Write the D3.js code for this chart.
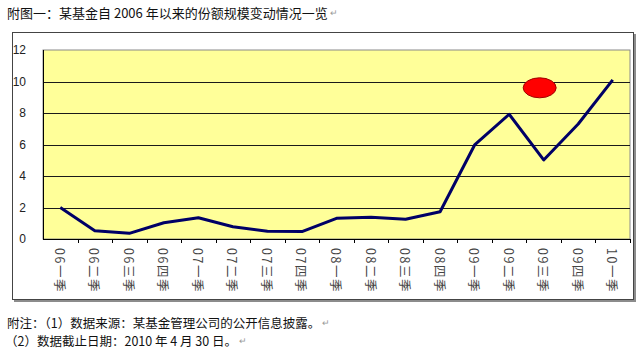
<!DOCTYPE html>
<html>
<head>
<meta charset="utf-8">
<script src="https://cdn.jsdelivr.net/npm/d3@7"></script>
<style>
  body { margin: 0; background: #fff; }
  text { font-family: "Noto Sans CJK SC", sans-serif; }
</style>
</head>
<body>
<div id="chart"></div>
<script>
// Data
var quarters = ["06一季", "06二季", "06三季", "06四季", "07一季", "07二季", "07三季", "07四季",
  "08一季", "08二季", "08三季", "08四季", "09一季", "09二季", "09三季", "09四季", "10一季"];
var shares = [2.0, 0.53, 0.36, 1.03, 1.35, 0.78, 0.49, 0.47,
  1.31, 1.38, 1.25, 1.73, 5.97, 7.92, 5.02, 7.3, 10.1];
var yTicks = [0, 2, 4, 6, 8, 10, 12];
var titleText = "附图一：某基金自 2006 年以来的份额规模变动情况一览";
var notes = ["附注：（1）数据来源：某基金管理公司的公开信息披露。", "（2）数据截止日期：2010 年 4 月 30 日。"];

var W = 640, H = 353;
var plot = { left: 43, right: 630, top: 50, bottom: 239 };

var svg = d3.select("#chart").append("svg")
  .attr("width", W)
  .attr("height", H);

// Title
var t = svg.append("text")
  .attr("x", 7)
  .attr("y", 12)
  .attr("dominant-baseline", "central")
  .style("font-size", "13px")
  .attr("fill", "#111")
  .text(titleText);
t.append("tspan").attr("fill", "#999").style("font-size", "9px").text(" ↵");

// Outer frame with shadow
svg.append("rect")
  .attr("x", 14).attr("y", 34)
  .attr("width", 622).attr("height", 268)
  .attr("fill", "#8c8c8c");
svg.append("rect")
  .attr("x", 12.5).attr("y", 32.5)
  .attr("width", 621).attr("height", 267)
  .attr("fill", "#fff")
  .attr("stroke", "#444");

// Scales
var x = d3.scaleBand()
  .domain(quarters)
  .range([plot.left, plot.right])
  .padding(0);
var y = d3.scaleLinear()
  .domain([0, 12])
  .range([plot.bottom, plot.top]);

// Plot area
svg.append("rect")
  .attr("x", plot.left).attr("y", plot.top)
  .attr("width", plot.right - plot.left)
  .attr("height", plot.bottom - plot.top)
  .attr("fill", "#ffff99")
  .attr("stroke", "#8a8a8a");

// Gridlines
svg.append("g")
  .selectAll("line")
  .data(yTicks.filter(function(d) { return d > 0 && d < 12; }))
  .enter().append("line")
  .attr("x1", plot.left).attr("x2", plot.right)
  .attr("y1", function(d) { return Math.round(y(d)) + 0.5; })
  .attr("y2", function(d) { return Math.round(y(d)) + 0.5; })
  .attr("stroke", "#1a1a1a");

// Y axis
svg.append("line")
  .attr("x1", plot.left + 0.5).attr("x2", plot.left + 0.5)
  .attr("y1", plot.top).attr("y2", plot.bottom)
  .attr("stroke", "#000");
svg.append("g")
  .selectAll("text")
  .data(yTicks)
  .enter().append("text")
  .attr("x", 26)
  .attr("y", function(d) { return y(d); })
  .attr("text-anchor", "end")
  .attr("dominant-baseline", "central")
  .style("font-family", "'Liberation Sans', Arial, sans-serif")
  .style("font-size", "12px")
  .attr("fill", "#222")
  .text(function(d) { return d; });

// X axis
svg.append("line")
  .attr("x1", plot.left).attr("x2", plot.right)
  .attr("y1", plot.bottom + 0.5).attr("y2", plot.bottom + 0.5)
  .attr("stroke", "#000");
svg.append("g")
  .selectAll("line")
  .data(quarters.slice(1).map(function(d) { return x(d); }).concat([x.range()[1]]))
  .enter().append("line")
  .attr("x1", function(d) { return Math.round(d) + 0.5; })
  .attr("x2", function(d) { return Math.round(d) + 0.5; })
  .attr("y1", plot.bottom).attr("y2", plot.bottom + 4)
  .attr("stroke", "#000");
svg.append("g")
  .selectAll("text")
  .data(quarters)
  .enter().append("text")
  .attr("transform", function(d) {
    return "translate(" + (x(d) + x.bandwidth() / 2) + "," + (plot.bottom + 9) + ") rotate(90)";
  })
  .attr("dominant-baseline", "central")
  .style("font-size", "12.5px")
  .style("letter-spacing", "1.5px")
  .attr("fill", "#444")
  .text(function(d) { return d; });

// Line
var line = d3.line()
  .x(function(d, i) { return x(quarters[i]) + x.bandwidth() / 2; })
  .y(function(d) { return y(d); });
svg.append("path")
  .datum(shares)
  .attr("d", line)
  .attr("fill", "none")
  .attr("stroke", "#000066")
  .attr("stroke-width", 3)
  .attr("stroke-linejoin", "round");

// Red marker
svg.append("ellipse")
  .attr("cx", x("09三季") + x.bandwidth() / 2 - 4)
  .attr("cy", y(9.6))
  .attr("rx", 16.5)
  .attr("ry", 10)
  .attr("fill", "#ff0000")
  .attr("stroke", "#a00000");

// Notes
svg.append("g")
  .selectAll("text")
  .data(notes)
  .enter().append("text")
  .attr("x", function(d, i) { return i === 0 ? 7 : 5; })
  .attr("y", function(d, i) { return 322 + i * 18; })
  .attr("dominant-baseline", "central")
  .style("font-size", "12.5px")
  .attr("fill", "#111")
  .text(function(d) { return d; })
  .append("tspan").attr("fill", "#999").style("font-size", "9px").text(" ↵");
</script>
</body>
</html>
